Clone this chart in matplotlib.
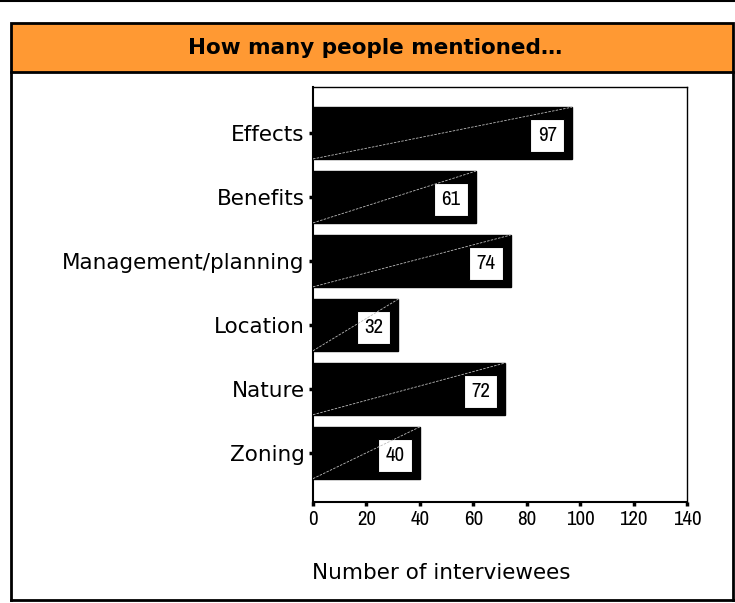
import matplotlib
matplotlib.use("Agg")
import matplotlib.pyplot as plt
from matplotlib.patches import Rectangle
from matplotlib.lines import Line2D

categories = ["Effects", "Benefits", "Management/planning", "Location", "Nature", "Zoning"]
values = [97, 61, 74, 32, 72, 40]
xticks = [0, 20, 40, 60, 80, 100, 120, 140]
title = "How many people mentioned…"
xlabel = "Number of interviewees"

NARROW = ["Archivo Narrow", "Roboto Condensed", "DejaVu Sans"]

W, H = 735, 603
fig = plt.figure(figsize=(W / 100, H / 100), dpi=100)

def fx(px):
    return px / W

def fy(py):
    return 1 - py / H

# outer frame
fig.add_artist(Line2D([0, 1], [fy(1), fy(1)], color="black", lw=1.5, transform=fig.transFigure))
fig.add_artist(Rectangle((fx(11), fy(72)), fx(733) - fx(11), fy(23) - fy(72),
                         facecolor="#FF9933", edgecolor="black", lw=2, transform=fig.transFigure))
fig.add_artist(Line2D([fx(11), fx(11)], [fy(600), fy(72)], color="black", lw=2, transform=fig.transFigure))
fig.add_artist(Line2D([fx(733), fx(733)], [fy(600), fy(72)], color="black", lw=2, transform=fig.transFigure))
fig.add_artist(Line2D([fx(11), fx(735)], [fy(600), fy(600)], color="black", lw=2, transform=fig.transFigure))
fig.text(fx(375), fy(48), title, ha="center", va="center", fontsize=15.5, fontweight="bold",
         family="DejaVu Sans")

ax = fig.add_axes([fx(313), fy(502), fx(687) - fx(313), fy(87) - fy(502)])
n = len(categories)
ypos = list(range(n - 1, -1, -1))
bh = 0.81
ax.barh(ypos, values, height=bh, color="black", edgecolor="black", zorder=2)
for y, v in zip(ypos, values):
    bx = v - 9.3
    ax.text(bx, y - 0.04, str(v), ha="center", va="center", fontsize=15,
            family=NARROW, zorder=4,
            bbox=dict(boxstyle="square,pad=0.35", facecolor="white", edgecolor="black", lw=0.8))
    ax.plot([0, v], [y - bh / 2, y + bh / 2], color="#bbbbbb", lw=0.6, ls=(0, (3, 1.5)), zorder=5)

ax.set_xlim(0, 140)
ax.set_ylim(-0.77, n - 1 + 0.72)
ax.set_yticks(ypos)
ax.set_yticklabels(categories, fontsize=15.5, family="DejaVu Sans")
ax.set_xticks(xticks)
ax.set_xticklabels([str(t) for t in xticks], fontsize=15, family=NARROW)
ax.tick_params(axis="both", direction="out", length=3, width=2.5)
ax.tick_params(axis="x", pad=3)
ax.tick_params(axis="y", pad=3)
for s in ax.spines.values():
    s.set_linewidth(1)
ax.spines["left"].set_linewidth(1.5)
ax.spines["bottom"].set_linewidth(1.5)

fig.text(fx(441), fy(573), xlabel, ha="center", va="center", fontsize=15.5, family="DejaVu Sans")

fig.savefig("out.png", dpi=100)
